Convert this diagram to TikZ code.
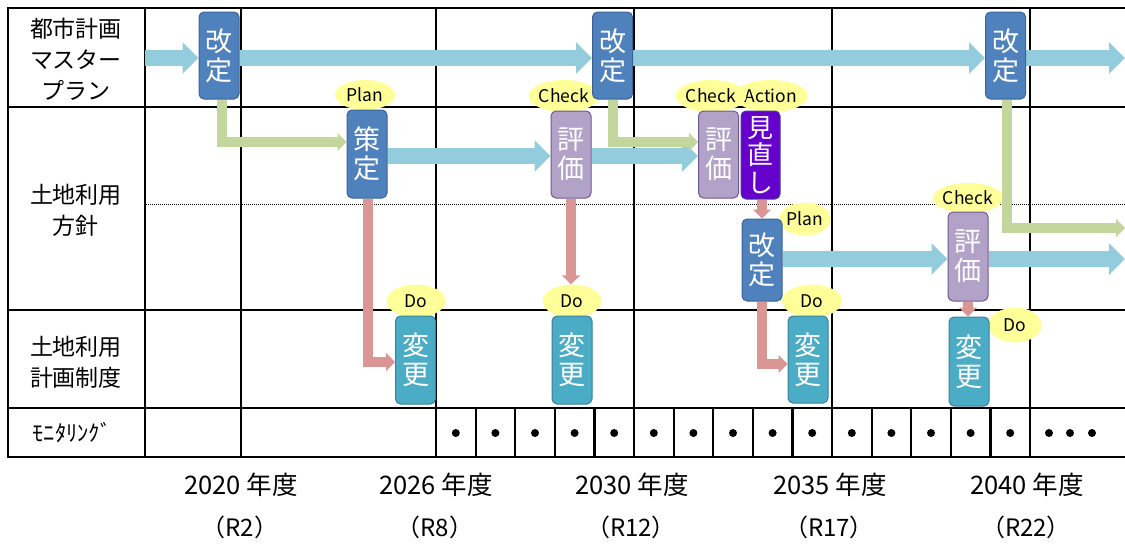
\documentclass[tikz,border=0pt]{standalone}
\usepackage{fontspec}
\setmainfont{Noto Sans CJK JP}
\usetikzlibrary{arrows.meta,shapes.geometric}
\definecolor{kblue}{HTML}{4F81BD}
\definecolor{kblueD}{HTML}{3A6497}
\definecolor{hpur}{HTML}{B2A2C7}
\definecolor{hpurD}{HTML}{6F5891}
\definecolor{mviol}{HTML}{6600CC}
\definecolor{mviolD}{HTML}{3F3F99}
\definecolor{vteal}{HTML}{4BACC6}
\definecolor{vtealD}{HTML}{3B7F98}
\definecolor{arrblue}{HTML}{93CDDD}
\definecolor{arrgreen}{HTML}{C3D69B}
\definecolor{arrred}{HTML}{D99694}
\definecolor{tagyel}{HTML}{FFFF99}
\pgfdeclarelayer{grid}
\pgfdeclarelayer{tags}
\pgfdeclarelayer{arr}
\pgfsetlayers{grid,tags,arr,main}
\begin{document}
\begin{tikzpicture}[x=1pt,y=-1pt,
  box/.style={rounded corners=5pt, line width=1pt, minimum width=40pt, minimum height=87pt,
    inner sep=0pt, text=white, align=center, font=\fontsize{27}{29}\selectfont},
  kbox/.style={box, fill=kblue, draw=kblueD},
  hbox/.style={box, fill=hpur, draw=hpurD},
  mbox/.style={box, fill=mviol, draw=mviolD, font=\fontsize{26}{27.5}\selectfont},
  vbox/.style={box, fill=vteal, draw=vtealD},
  tag/.style={ellipse, fill=tagyel, inner sep=0pt, font=\fontsize{17.5}{17.5}\selectfont},
  gridline/.style={line width=2.2pt, black},
  bigarr/.style={draw=arrblue, line width=16pt, -{Triangle[length=16pt,width=31pt]}},
  garr/.style={draw=arrgreen, line width=10pt, line join=miter, -{Triangle[length=9pt,width=18pt]}},
  rarr/.style={draw=arrred, line width=10pt, line join=miter, -{Triangle[length=9pt,width=18pt]}},
  lab/.style={align=center, font=\fontsize{23}{31}\selectfont},
  yr/.style={font=\fontsize{25.5}{27}\selectfont},
  rl/.style={font=\fontsize{24}{26}\selectfont},
  dot/.style={circle, fill=black, inner sep=0pt, minimum size=8pt}
]
\useasboundingbox (0,0) rectangle (1125,544);

% ---------- grid ----------
\begin{pgfonlayer}{grid}
\foreach \yy in {8,107,310,408,457} \draw[gridline] (7,\yy) -- (1125,\yy);
\foreach \xx in {8,145,241,436,634,832,1030} \draw[gridline] (\xx,8) -- (\xx,457);
\foreach \k in {1,2,3,4,6,7,8,9,11,12,13,14} \draw[gridline] ({436+39.6*\k},408) -- ({436+39.6*\k},457);
\draw[line width=0.8pt, dash pattern=on 1pt off 1pt] (146,204) -- (1125,204);
\end{pgfonlayer}

% ---------- dots ----------
\foreach \k in {0,...,14} \node[dot] (d\k) at ({436+39.6*(\k+0.5)},433) {};
\node[dot] (e1) at (1049,433) {};
\node[dot] (e2) at (1070,433) {};
\node[dot] (e3) at (1092,433) {};

% ---------- row labels ----------
\node[lab] (L1) at (76,59) {都市計画\\マスター\\プラン};
\node[lab] (L2) at (76,210) {土地利用\\方針};
\node[lab] (L3) at (76,362) {土地利用\\計画制度};
\node[font=\fontsize{22.5}{22.5}\selectfont] (L4) at (72,433) {ﾓﾆﾀﾘﾝｸﾞ};

% ---------- year labels ----------
\node[yr] (Y1) at (241,485) {2020 年度};
\node[yr] (Y2) at (436,485) {2026 年度};
\node[yr] (Y3) at (632,485) {2030 年度};
\node[yr] (Y4) at (830,485) {2035 年度};
\node[yr] (Y5) at (1027,485) {2040 年度};
\node[rl] (R1) at (240,527) {（R2）};
\node[rl] (R2) at (435,527) {（R8）};
\node[rl] (R3) at (631,527) {（R12）};
\node[rl] (R4) at (829,527) {（R17）};
\node[rl] (R5) at (1026,527) {（R22）};

% ---------- boxes ----------
\node[kbox] (K1) at (219,55.5) {改\\定};
\node[kbox] (K2) at (612.5,55.5) {改\\定};
\node[kbox] (K3) at (1005.5,55.5) {改\\定};
\node[kbox, minimum height=88pt] (S1) at (367,154) {策\\定};
\node[hbox] (H1) at (571,154.5) {評\\価};
\node[hbox] (H2) at (718.5,154.5) {評\\価};
\node[mbox, minimum width=39pt, minimum height=88pt] (M1) at (760.5,155) {見\\直\\し};
\node[kbox, minimum height=82pt] (K4) at (762,260) {改\\定};
\node[hbox, minimum height=89pt] (H3) at (968,256.5) {評\\価};
\node[vbox, minimum height=88pt] (V1) at (415.5,360) {変\\更};
\node[vbox, minimum height=88pt] (V2) at (572,360) {変\\更};
\node[vbox] (V3) at (808,359.5) {変\\更};
\node[vbox, minimum height=89pt] (V4) at (969,361.5) {変\\更};

% ---------- tags ----------
\begin{pgfonlayer}{tags}
\node[tag, minimum width=60pt, minimum height=30pt] (P1) at (365,95) {Plan};
\node[tag, minimum width=59pt, minimum height=32pt] (C1) at (564,96) {Check};
\node[tag, minimum width=58pt, minimum height=32pt] (A1) at (771,96) {Action};
\node[tag, minimum width=59pt, minimum height=32pt] (C2) at (711,96) {Check};
\node[tag, minimum width=50pt, minimum height=33pt] (P2) at (805,219) {Plan};
\node[tag, minimum width=59pt, minimum height=30pt] (C3) at (968,198) {Check};
\node[tag, minimum width=59pt, minimum height=33pt] (D1) at (416,301) {Do};
\node[tag, minimum width=59pt, minimum height=33pt] (D2) at (572,301) {Do};
\node[tag, minimum width=60pt, minimum height=33pt] (D3) at (812,301) {Do};
\node[tag, minimum width=53pt, minimum height=35pt] (D4) at (1015,325) {Do};
\end{pgfonlayer}

% ---------- arrows ----------
\coordinate (a0) at (145,58);
\coordinate (a4) at (1125,58);
\coordinate (b2) at (1125,259);
\coordinate (g3) at (1125,228);
\begin{pgfonlayer}{arr}
% blue
\draw[bigarr] (a0) -- (a0 -| K1.west);
\draw[bigarr] (a0 -| K1.east) -- (a0 -| K2.west);
\draw[bigarr] (a0 -| K2.east) -- (a0 -| K3.west);
\draw[bigarr] (a0 -| K3.east) -- (a4);
\draw[bigarr] ([yshift=-2pt]S1.east) -- ([yshift=-2pt]S1.east -| H1.west);
\draw[bigarr] ([yshift=-1.5pt]H1.east) -- ([yshift=-1.5pt]H1.east -| H2.west);
\draw[bigarr] (b2 -| K4.east) -- (b2 -| H3.west);
\draw[bigarr] (b2 -| H3.east) -- (b2);
% green
\draw[garr] ([xshift=3pt]K1.south) |- ([yshift=12pt]S1.west);
\draw[garr] ([xshift=0.5pt]K2.south) |- ([yshift=12.5pt]H2.west);
\draw[garr] ([xshift=1.5pt]K3.south) |- (g3);
% red
\draw[rarr] ([xshift=1pt]S1.south) |- ([yshift=-2pt]V1.west);
\draw[rarr] (H1.south) -- (H1.south |- D2.north);
\draw[rarr] (M1.south -| K4.north) -- (K4.north);
\draw[rarr] (K4.south) |- ([yshift=-4.5pt]V3.west);
\draw[rarr] (H3.south) -- (H3.south |- V4.north);
\end{pgfonlayer}
\end{tikzpicture}
\end{document}
